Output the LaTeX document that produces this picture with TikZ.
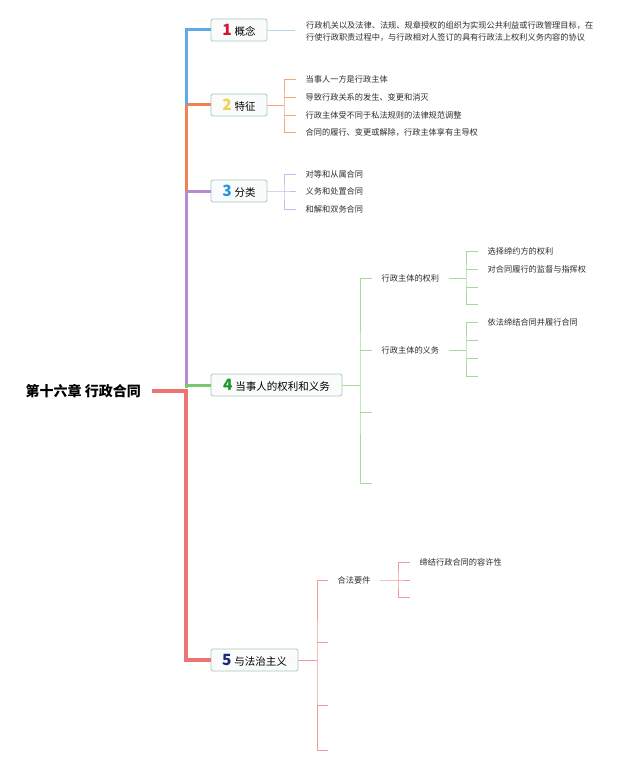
\documentclass[tikz,border=0pt]{standalone}
\usepackage{fontspec}
\setmainfont{Noto Sans CJK SC}
\definecolor{tblue}{RGB}{95,170,230}
\definecolor{torange}{RGB}{240,130,80}
\definecolor{tpurple}{RGB}{180,140,210}
\definecolor{tgreen}{RGB}{120,200,110}
\definecolor{tred}{RGB}{240,115,115}
\definecolor{lblue}{RGB}{180,215,240}
\definecolor{lorange}{RGB}{245,165,125}
\definecolor{lpurple}{RGB}{200,185,240}
\definecolor{lgreen}{RGB}{165,218,155}
\definecolor{lred}{RGB}{240,155,155}
\definecolor{boxfill}{RGB}{249,252,251}
\definecolor{boxline}{RGB}{170,200,190}
\definecolor{num1}{RGB}{210,20,50}
\definecolor{num2}{RGB}{240,210,80}
\definecolor{num3}{RGB}{40,150,220}
\definecolor{num4}{RGB}{30,150,40}
\definecolor{num5}{RGB}{30,40,120}
\definecolor{txt}{RGB}{45,45,45}
\newcommand{\bignum}[2]{{\fontsize{15.5}{15}\selectfont\bfseries\textcolor{#1}{#2}}\hspace{3pt}}
\tikzset{
  trunk/.style={line width=3pt},
  mainbox/.style={draw=boxline, fill=boxfill, rounded corners=1.5pt, line width=0.8pt,
    minimum height=22, inner xsep=4pt, inner ysep=0pt, text=black,
    font=\fontsize{10.5}{12}\selectfont},
  item/.style={anchor=west, inner xsep=9.5pt, inner ysep=1pt, text=txt,
    font=\fontsize{8.2}{12}\selectfont},
  br/.style={line width=0.8pt}
}
\begin{document}
\begin{tikzpicture}[x=1pt,y=-1pt]
\useasboundingbox (0,0) rectangle (640,765);
\fill[white] (0,0) rectangle (640,765);

% root
\node[anchor=east, inner xsep=11pt, font=\fontsize{14}{16}\selectfont\bfseries] (root) at (152,391) {第十六章 行政合同};

% main boxes
\node[mainbox, minimum width=56] (n1) at (239,30) {\bignum{num1}{1}概念};
\node[mainbox, minimum width=56] (n2) at (239,105) {\bignum{num2}{2}特征};
\node[mainbox, minimum width=56] (n3) at (239,191) {\bignum{num3}{3}分类};
\node[mainbox, minimum width=131] (n4) at (276.5,385) {\bignum{num4}{4}当事人的权利和义务};
\node[mainbox, minimum width=87] (n5) at (254.5,660) {\bignum{num5}{5}与法治主义};

% trunk coordinates
\coordinate (j0) at (186,391);
\coordinate (j1) at (186,30);
\coordinate (j2) at (186,105);
\coordinate (j3) at (186,191);
\coordinate (j4) at (186,385);
\coordinate (j5) at (186,660);

\draw[trunk, tpurple] (n3.west) -- (j3) -- (j4);
\draw[trunk, torange] (n2.west) -- (j2) -- (j3);
\draw[trunk, tblue] (n1.west) -- (j1) -- (j2);
\draw[trunk, tgreen] (n4.west) -- (j4) -- (186,388);
\draw[trunk, tred, line width=4pt] (root.east) -- (j0) -- (j5) -- (n5.west);

% 1 concept
\node[anchor=west, inner xsep=0pt, text=txt, align=left, font=\fontsize{8.2}{12}\selectfont] (d1) at (306,31) {行政机关以及法律、法规、规章授权的组织为实现公共利益或行政管理目标，在\\行使行政职责过程中，与行政相对人签订的具有行政法上权利义务内容的协议};
\draw[br, lblue] (n1.east) -- (295,30);

% 2 features
\coordinate (b2) at (284,105);
\node[item] (f1) at (296,79) {当事人一方是行政主体};
\node[item] (f2) at (296,97) {导致行政关系的发生、变更和消灭};
\node[item] (f3) at (296,115) {行政主体受不同于私法规则的法律规范调整};
\node[item] (f4) at (296,132) {合同的履行、变更或解除，行政主体享有主导权};
\draw[br, lorange] (n2.east) -- (b2);
\draw[br, lorange] (f1.west) -| (b2) |- (f4.west);
\draw[br, lorange] (b2 |- f2.west) -- (f2.west);
\draw[br, lorange] (b2 |- f3.west) -- (f3.west);

% 3 classification
\coordinate (b3) at (284,191);
\node[item] (c1) at (296,174) {对等和从属合同};
\node[item] (c2) at (296,191) {义务和处置合同};
\node[item] (c3) at (296,209) {和解和双务合同};
\draw[br, lpurple] (n3.east) -- (b3) -- (c2.west);
\draw[br, lpurple] (c1.west) -| (b3) |- (c3.west);

% 4 rights and duties
\coordinate (b4) at (360,385);
\node[item, inner xsep=9.5pt] (r1) at (372,278) {行政主体的权利};
\node[item, inner xsep=9.5pt] (r2) at (372,350) {行政主体的义务};
\coordinate (r3) at (372,412);
\coordinate (r4) at (372,483);
\draw[br, lgreen] (n4.east) -- (b4);
\draw[br, lgreen] (r1.west) -| (b4) |- (r4);
\draw[br, lgreen] (b4 |- r2.west) -- (r2.west);
\draw[br, lgreen] (b4 |- r3) -- (r3);

\coordinate (b41) at (466,278);
\node[item] (s1) at (478,251) {选择缔约方的权利};
\node[item] (s2) at (478,269) {对合同履行的监督与指挥权};
\coordinate (s3) at (478,287);
\coordinate (s4) at (478,304);
\draw[br, lgreen] (r1.east) -- (b41);
\draw[br, lgreen] (s1.west) -| (b41) |- (s4);
\draw[br, lgreen] (b41 |- s2.west) -- (s2.west);
\draw[br, lgreen] (b41 |- s3) -- (s3);

\coordinate (b42) at (466,350);
\node[item] (u1) at (478,322) {依法缔结合同并履行合同};
\coordinate (u2) at (478,340);
\coordinate (u3) at (478,358);
\coordinate (u4) at (478,376);
\draw[br, lgreen] (r2.east) -- (b42);
\draw[br, lgreen] (u1.west) -| (b42) |- (u4);
\draw[br, lgreen] (b42 |- u2) -- (u2);
\draw[br, lgreen] (b42 |- u3) -- (u3);

% 5 rule of law
\coordinate (b5) at (317,660);
\node[item] (p1) at (328,580) {合法要件};
\coordinate (p2) at (328,642);
\coordinate (p3) at (328,705);
\coordinate (p4) at (328,750);
\draw[br, lred] (n5.east) -- (b5);
\draw[br, lred] (p1.west) -| (b5) |- (p4);
\draw[br, lred] (b5 |- p2) -- (p2);
\draw[br, lred] (b5 |- p3) -- (p3);

\coordinate (b51) at (398,580);
\node[item] (q1) at (410,562) {缔结行政合同的容许性};
\coordinate (q2) at (410,580);
\coordinate (q3) at (410,597);
\draw[br, lred] (p1.east) -- (b51) -- (q2);
\draw[br, lred] (q1.west) -| (b51) |- (q3);
\end{tikzpicture}
\end{document}
